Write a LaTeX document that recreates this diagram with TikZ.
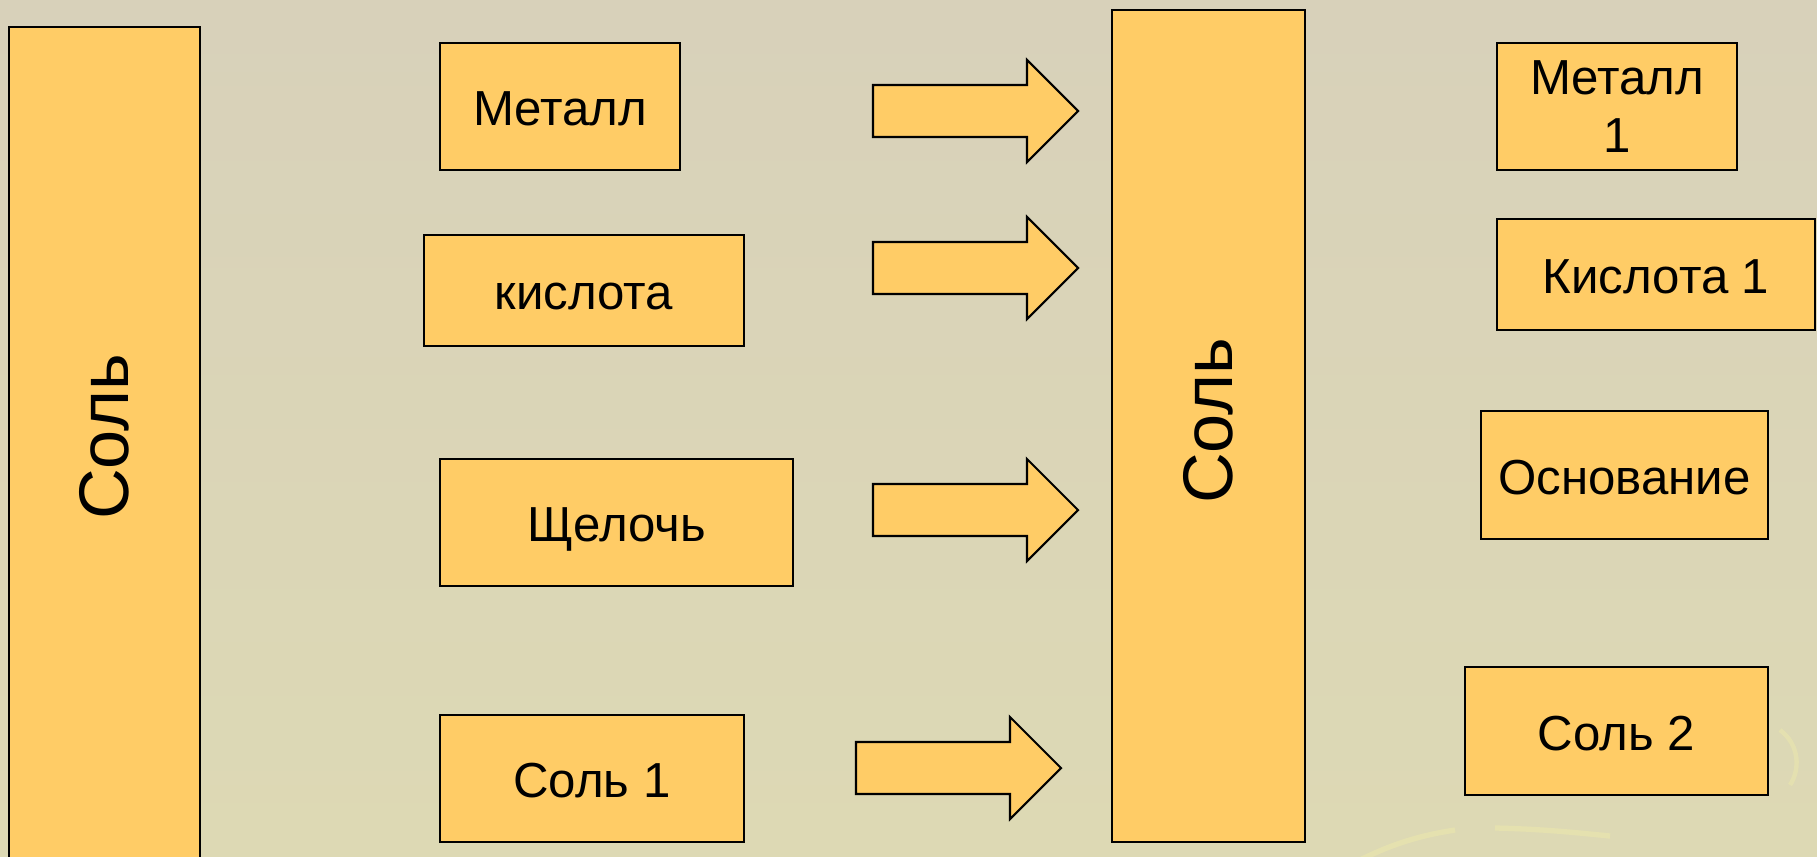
\documentclass[tikz,border=0pt]{standalone}
\usepackage{fontspec}
\setmainfont{Liberation Sans}
\usepackage{tikz}

\definecolor{bgtop}{HTML}{D8D1BA}
\definecolor{bgbot}{HTML}{DDD9B4}
\definecolor{swirl}{HTML}{E8E4AE}
\definecolor{boxfill}{HTML}{FFCC66}

\tikzset{
  sbox/.style={draw=black, line width=1.6pt, fill=boxfill, inner sep=0pt,
    align=center, font=\fontsize{28}{34}\selectfont},
  oneline/.style={text height=22pt, text depth=0pt},
  arrowbody/.style={draw=black, line width=1.2pt, fill=boxfill, line join=miter}
}

% block arrow: tail at (#1,#2), 205 long
\newcommand{\blockarrow}[2]{%
  \draw[arrowbody] (#1,#2) ++(0,-26) -- ++(154,0) -- ++(0,-25) -- ++(51,51)
    -- ++(-51,51) -- ++(0,-25) -- ++(-154,0) -- cycle;}

\begin{document}
\begin{tikzpicture}[x=0.02cm, y=-0.02cm]
\useasboundingbox (0,0) rectangle (1817,856);
\clip (0,0) rectangle (1817,856);
\shade[top color=bgtop, bottom color=bgbot] (0,0) rectangle (1817,856);
% faint swirl in the corner
\draw[swirl, line width=3pt, opacity=0.8] (1360,860) .. controls (1400,840) and (1430,834) .. (1455,830);
\draw[swirl, line width=3pt, opacity=0.8] (1495,828) .. controls (1540,829) and (1570,832) .. (1610,836);
\draw[swirl, line width=2.5pt, opacity=0.7] (1780,730) .. controls (1800,745) and (1800,770) .. (1790,785);

% left column
\node[sbox, minimum width=3.82cm, minimum height=17.2cm] (salt) at (104.5,457) {};
\node[rotate=90, font=\fontsize{40}{48}\selectfont] (saltlbl) at (104.5,437) {Соль};
\node[sbox, oneline, minimum width=4.8cm, minimum height=2.54cm] (metal) at (560,106.5) {Металл};
\node[sbox, oneline, minimum width=6.4cm, minimum height=2.22cm] (acid) at (584,290.5) {кислота};
\node[sbox, oneline, minimum width=7.06cm, minimum height=2.54cm] (alkali) at (616.5,522.5) {Щелочь};
\node[sbox, oneline, minimum width=6.08cm, minimum height=2.54cm] (salta) at (592,778.5) {Соль 1};

% arrows
\blockarrow{873}{111}
\blockarrow{873}{268}
\blockarrow{873}{510}
\blockarrow{856}{768}

% middle column
\node[sbox, minimum width=3.86cm, minimum height=16.64cm] (mid) at (1208.5,426) {};
\node[rotate=90, font=\fontsize{40}{48}\selectfont] (midlbl) at (1208.5,421) {Соль};

% right column
\node[sbox, minimum width=4.8cm, minimum height=2.54cm] (metala) at (1617,106.5) {Металл\\[-1pt]1};
\node[sbox, oneline, minimum width=6.36cm, minimum height=2.22cm] (acida) at (1656,274.5) {Кислота 1};
\node[sbox, oneline, minimum width=5.74cm, minimum height=2.56cm] (base) at (1624.5,475) {Основание};
\node[sbox, oneline, minimum width=6.06cm, minimum height=2.56cm] (saltb) at (1616.5,731) {Соль 2};
\end{tikzpicture}
\end{document}
